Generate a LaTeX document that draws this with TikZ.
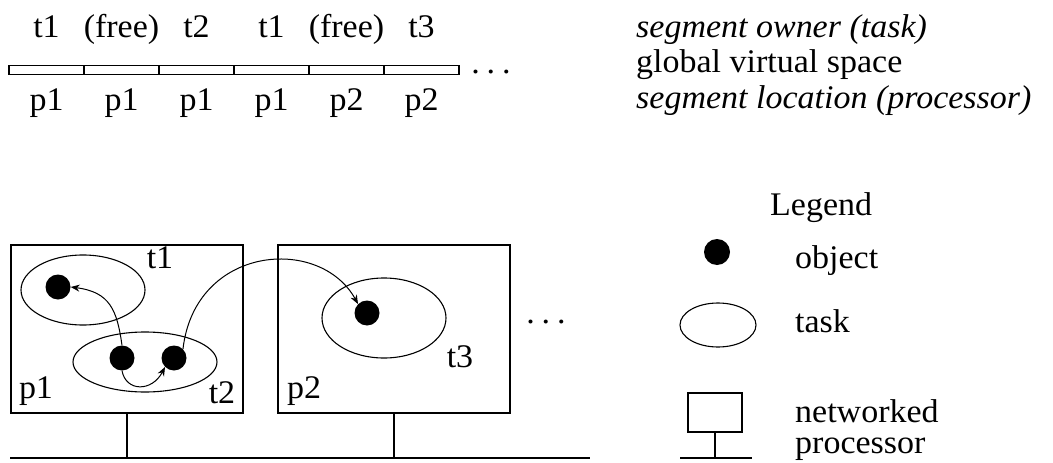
\documentclass[tikz,border=0pt]{standalone}
\usepackage{fontspec}
\setmainfont{Liberation Serif}[FakeStretch=1.03]
\usetikzlibrary{arrows.meta, positioning, shapes.geometric}
\tikzset{
  cell/.style={
    draw, line width=1.4pt, minimum width=75pt, minimum height=9pt, inner sep=0pt
  },
  procbox/.style={draw, line width=1.5pt, inner sep=0pt},
  task/.style={draw, ellipse, line width=1.1pt, inner sep=0pt},
  obj/.style={circle, fill=black, minimum size=25pt, inner sep=0pt},
  lbl/.style={inner sep=0pt, anchor=base},
  key/.style={inner sep=0pt, anchor=base west},
  arr/.style={-{Stealth[length=9pt, width=7pt]}, line width=1pt},
  wire/.style={line width=1.6pt}
}

\begin{document}
\begin{tikzpicture}[x=1pt, y=-1pt, font=\fontsize{33}{38}\selectfont]
  \useasboundingbox (0,0) rectangle (1053,463);

  % global virtual space
  \foreach \own/\loc [count=\i] in {t1/p1, (free)/p1, t2/p1, t1/p1, (free)/p2, t3/p2} {
    \node[cell] (seg\i) at ({9+75*(\i-0.5)}, 70) {};
    \node[lbl] (own\i) at ({9+75*(\i-0.5)}, 37) {\own};
    \node[lbl] (loc\i) at ({9+75*(\i-0.5)}, 110) {\loc};
  }
  \node[lbl] (segdots) at (491,73) {.\hspace{7pt}.\hspace{7pt}.};

  \node[key] (ownerkey) at (636,37) {\itshape segment owner (task)};
  \node[key] (spacekey) at (636,72) {global virtual space};
  \node[key] (lockey) at (636,108) {\itshape segment location (processor)};

  % processors
  \node[procbox, minimum width=232pt, minimum height=168pt] (p1box) at (127,329) {};
  \node[procbox, minimum width=232pt, minimum height=168pt] (p2box) at (394,329) {};
  \node[lbl] (p1lbl) at (36,398) {p1};
  \node[lbl] (p2lbl) at (304,398) {p2};
  \node[lbl] (procdots) at (546,323) {.\hspace{7pt}.\hspace{7pt}.};

  \coordinate (netL) at (10,458);
  \coordinate (netR) at (590,458);
  \draw[wire] (netL) -- (netR);
  \draw[wire] (p1box.south) -- (p1box.south |- netL);
  \draw[wire] (p2box.south) -- (p2box.south |- netL);

  % tasks and objects
  \node[task, minimum width=124pt, minimum height=70pt] (t1) at (83,290) {};
  \node[task, minimum width=144pt, minimum height=60pt] (t2) at (145,362) {};
  \node[task, minimum width=124pt, minimum height=80pt] (t3) at (384,318) {};
  \node[lbl] (t1lbl) at (160,268) {t1};
  \node[lbl] (t2lbl) at (222,403) {t2};
  \node[lbl] (t3lbl) at (460,367) {t3};

  \node[obj] (o1) at (58,287) {};
  \node[obj] (o2) at (122,358) {};
  \node[obj] (o3) at (174,358) {};
  \node[obj] (o4) at (367,313) {};

  \draw[arr] (o2.north) .. controls (117,310) and (110,292) .. (o1.east);
  \draw[arr] (o2.south) .. controls (126,392) and (152,392) .. (o3.south west);
  \draw[arr] (o3.north east) .. controls (195,245) and (320,235) .. (o4.north west);

  % legend
  \node[key] (legend) at (770,215) {Legend};
  \node[obj, minimum size=26pt] (legobj) at (717,252) {};
  \node[key] (objkey) at (795,268) {object};
  \node[task, minimum width=76pt, minimum height=44pt] (legtask) at (718,325) {};
  \node[key] (taskkey) at (795,332) {task};
  \node[procbox, minimum width=54pt, minimum height=39pt] (legproc) at (715,412.5) {};
  \coordinate (legnetL) at (680,458);
  \coordinate (legnetR) at (752,458);
  \draw[wire] (legnetL) -- (legnetR);
  \draw[wire] (legproc.south) -- (legproc.south |- legnetL);
  \node[key] (netkey) at (795,422) {networked};
  \node[key] (prockey) at (795,453) {processor};
\end{tikzpicture}
\end{document}
